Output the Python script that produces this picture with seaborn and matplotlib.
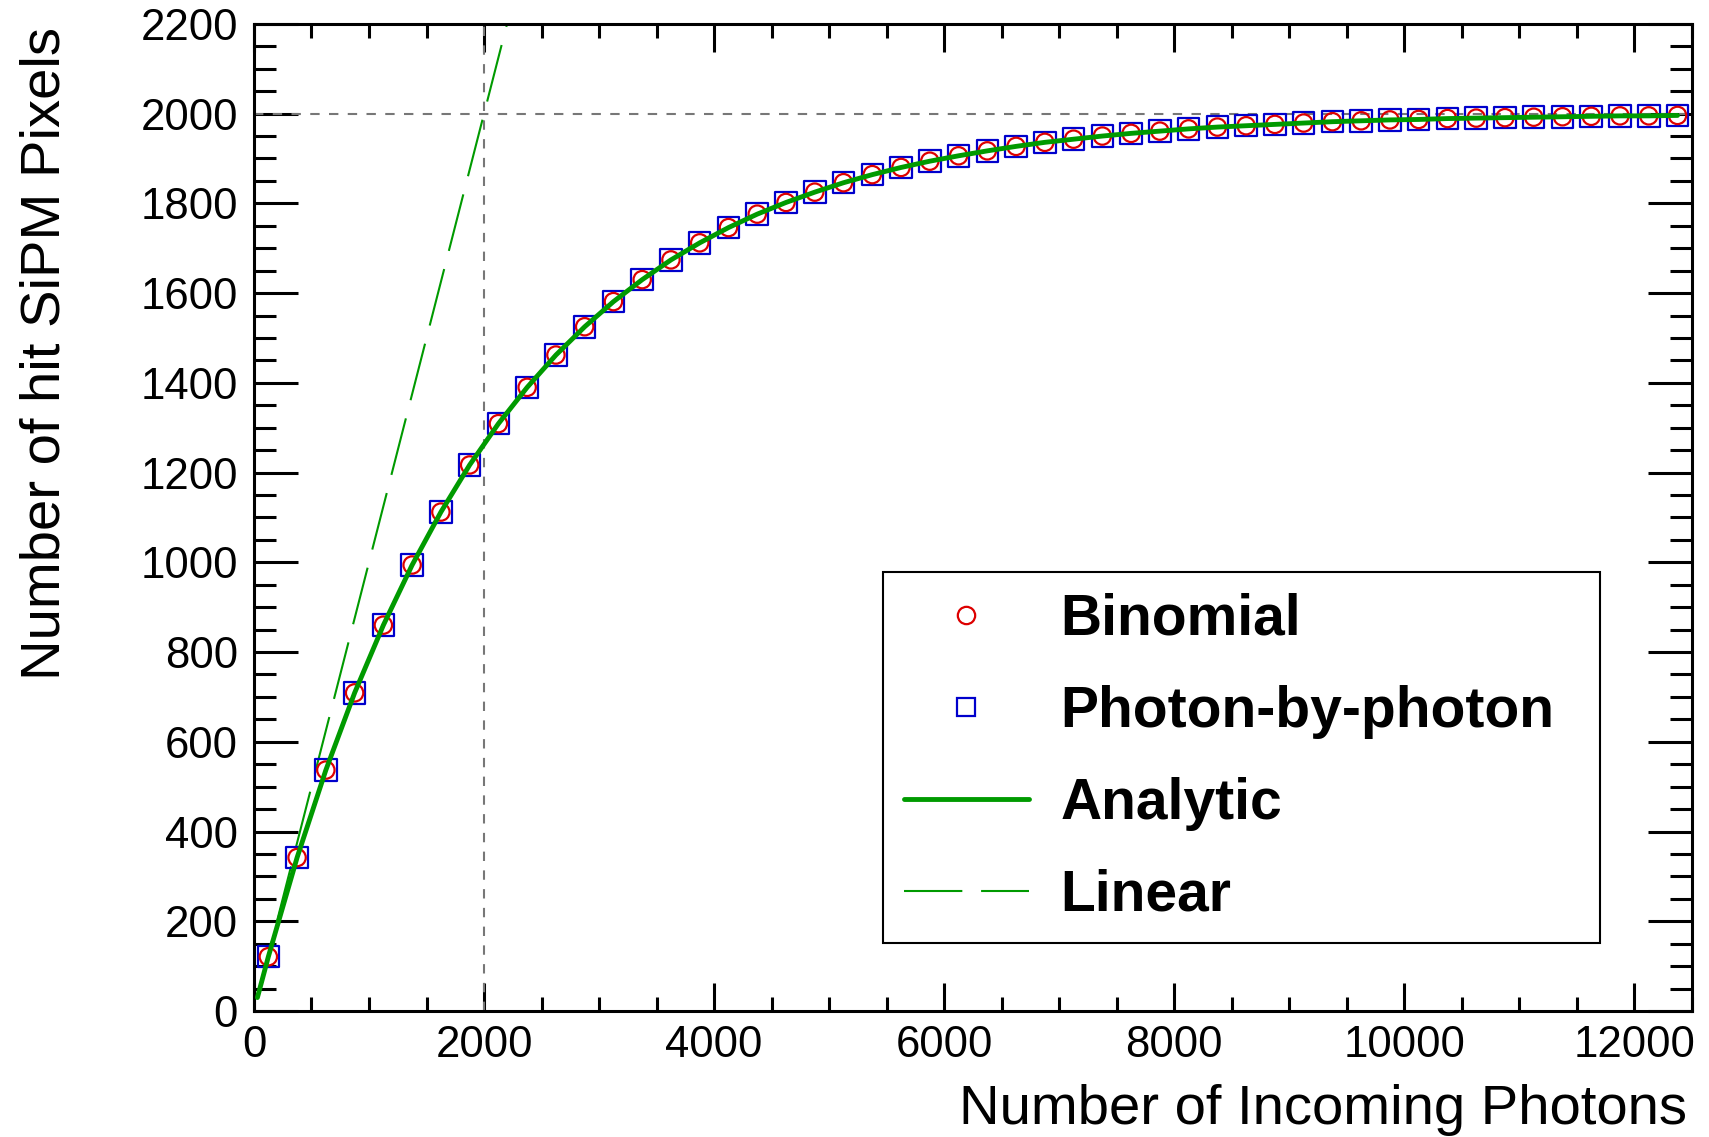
import numpy as np
import matplotlib
matplotlib.use("Agg")
import matplotlib.pyplot as plt
import seaborn as sns
from matplotlib.lines import Line2D
from matplotlib.ticker import MultipleLocator

# Number of incoming photons at each simulated point
photons = list(range(125, 12500, 250))

# Number of hit SiPM pixels, binomial model
binomial = [121, 342, 537, 709, 860, 994, 1112, 1217, 1309, 1390,
            1462, 1525, 1581, 1630, 1674, 1712, 1746, 1776, 1802, 1825,
            1846, 1864, 1880, 1894, 1906, 1917, 1927, 1936, 1943, 1950,
            1956, 1961, 1966, 1970, 1973, 1976, 1979, 1982, 1984, 1986,
            1987, 1989, 1990, 1991, 1992, 1993, 1994, 1995, 1995, 1996]

# Number of hit SiPM pixels, photon-by-photon simulation
photon_by_photon = [121, 342, 537, 709, 860, 994, 1112, 1217, 1309, 1390,
                    1462, 1525, 1581, 1630, 1674, 1712, 1746, 1776, 1802, 1825,
                    1846, 1864, 1880, 1894, 1906, 1917, 1927, 1936, 1943, 1950,
                    1956, 1961, 1966, 1970, 1973, 1976, 1979, 1982, 1984, 1986,
                    1987, 1989, 1990, 1991, 1992, 1993, 1994, 1995, 1995, 1996]

# Analytic saturation curve
analytic_x = [30] + photons
analytic_y = [30] + binomial

# Linear response (no saturation)
linear_x = [30, 2300]
linear_y = [30, 2300]

n_pixels = 2000

sns.set_theme(style="ticks")
plt.rcParams["font.family"] = ["Liberation Sans", "DejaVu Sans"]
plt.rcParams["text.color"] = "black"

GREEN = "#009a00"
RED = "#dd0000"
BLUE = "#0000cc"

fig = plt.figure(figsize=(17.09, 11.37), dpi=100)
ax = fig.add_axes([0.1486, 0.1108, 0.8414, 0.8682])

ax.axhline(n_pixels, color="#777777", lw=1.5, ls=(0, (4.5, 4.5)), zorder=1)
ax.axvline(n_pixels, color="#777777", lw=1.5, ls=(0, (4.5, 4.5)), zorder=1)

sns.scatterplot(x=photons, y=photon_by_photon, marker="s", s=15.5 ** 2,
                facecolor="none", edgecolor=BLUE, linewidth=1.6, ax=ax, zorder=3)
sns.scatterplot(x=photons, y=binomial, marker="o", s=12.5 ** 2,
                facecolor="none", edgecolor=RED, linewidth=1.6, ax=ax, zorder=3)
sns.lineplot(x=analytic_x, y=analytic_y, color=GREEN, lw=3.5, ax=ax, zorder=4)
ax.plot(linear_x, linear_y, color=GREEN, lw=1.5, ls=(0, (28, 9)), zorder=2)

ax.set_xlim(0, 12500)
ax.set_ylim(0, 2200)
ax.xaxis.set_major_locator(MultipleLocator(2000))
ax.xaxis.set_minor_locator(MultipleLocator(500))
ax.yaxis.set_major_locator(MultipleLocator(200))
ax.yaxis.set_minor_locator(MultipleLocator(50))

for sp in ax.spines.values():
    sp.set_linewidth(2.2)
    sp.set_color("black")
    sp.set_visible(True)

ax.tick_params(which="both", direction="in", top=True, right=True,
               width=2.2, color="black", labelcolor="black")
ax.tick_params(axis="x", which="major", length=20, labelsize=31.5, pad=10)
ax.tick_params(axis="x", which="minor", length=10)
ax.tick_params(axis="y", which="major", length=32, labelsize=31.5, pad=11.5)
ax.tick_params(axis="y", which="minor", length=16)

ax.set_xlabel("Number of Incoming Photons", fontsize=40.5, loc="right", color="black")
ax.xaxis.set_label_coords(0.9965, -0.074)
ax.set_ylabel("Number of hit SiPM Pixels", fontsize=40.5, loc="top", color="black")
ax.yaxis.set_label_coords(-0.1266, 0.997)

handles = [
    Line2D([], [], ls="none", marker="o", ms=12.5, mfc="none", mec=RED, mew=1.6),
    Line2D([], [], ls="none", marker="s", ms=13, mfc="none", mec=BLUE, mew=1.6),
    Line2D([], [], color=GREEN, lw=3.5),
    Line2D([], [], color=GREEN, lw=1.5, ls=(0, (28, 9))),
]
labels = ["Binomial", "Photon-by-photon", "Analytic", "Linear"]
x0, y0 = 883 / 1709, 1 - 937 / 1137
w, h = (1600 - 883) / 1709, (937 - 572) / 1137
leg = ax.legend(handles, labels, loc="upper left", mode="expand",
                bbox_to_anchor=(x0, y0, w, h), bbox_transform=fig.transFigure,
                borderaxespad=0, frameon=True, fancybox=False, framealpha=1,
                edgecolor="black", prop={"weight": "bold", "size": 41},
                labelcolor="black",
                handlelength=2.2, handletextpad=0.55, labelspacing=0.67,
                borderpad=0.36)
leg.get_frame().set_linewidth(1.5)

fig.savefig("out.png", dpi=100)
